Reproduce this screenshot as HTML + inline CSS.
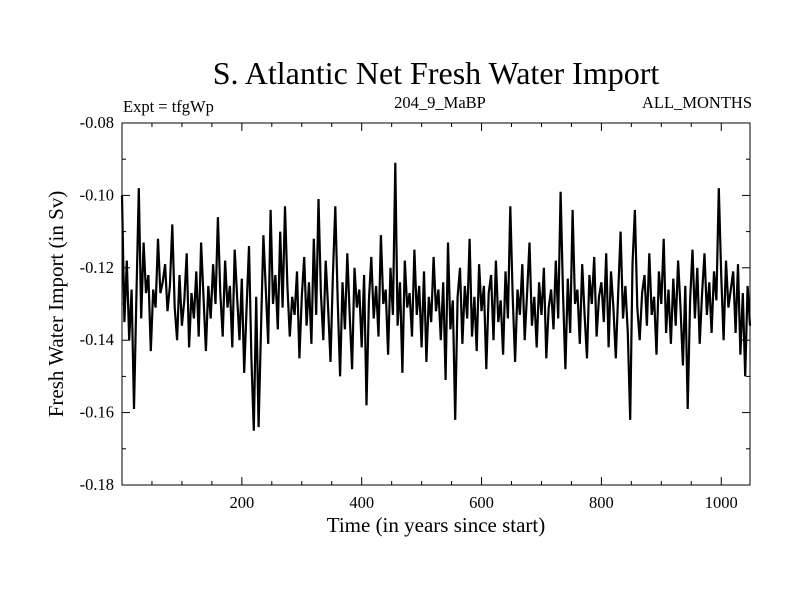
<!DOCTYPE html>
<html><head><meta charset="utf-8"><style>
body{margin:0;background:#fff}
svg text{font-family:"Liberation Serif",serif;fill:#000}
</style></head><body>
<svg id="chart" width="800" height="600">
<rect width="800" height="600" fill="#fff"/>
<text x="436" y="84" font-size="32" text-anchor="middle">S. Atlantic Net Fresh Water Import</text>
<text x="123" y="112" font-size="16.5">Expt = tfgWp</text>
<text x="440" y="108" font-size="16.5" text-anchor="middle">204_9_MaBP</text>
<text x="752" y="108" font-size="16.5" text-anchor="end">ALL_MONTHS</text>
<text transform="translate(63,304) rotate(-90)" font-size="21" text-anchor="middle">Fresh Water Import (in Sv)</text>
<text x="436" y="532" font-size="21" text-anchor="middle">Time (in years since start)</text>
<g id="axes"></g>
<rect x="122" y="123" width="628" height="362" fill="none" stroke="#000" stroke-width="1"/>
<path id="series" fill="none" stroke="#000" stroke-width="2.2" stroke-linejoin="miter"/>
</svg>
<script>
const years_step = 4;
const values = [
100,135,118,140,126,159,128,98,134,113,
127,122,143,126,131,112,127,124,119,132,
125,108,131,140,122,136,129,116,142,127,
134,121,139,113,128,143,125,134,119,130,
106,127,139,118,131,125,142,115,128,140,
123,149,131,114,145,165,128,164,137,111,
126,141,104,130,122,137,110,131,103,125,
139,128,133,121,145,128,117,136,124,141,
112,133,101,127,140,118,131,146,122,103,
129,150,124,137,116,133,148,120,131,126,
142,122,158,129,117,134,125,139,111,130,
126,144,120,133,91,136,124,149,118,131,
127,139,115,133,125,142,121,146,128,135,
117,132,126,140,124,151,113,137,129,162,
128,120,141,125,134,112,139,128,143,119,
132,125,148,127,122,140,118,135,129,144,
121,134,103,128,146,126,133,119,140,127,
113,136,128,142,124,133,120,145,131,126,
137,118,134,99,127,148,123,138,104,130,
126,141,119,133,145,122,130,117,139,128,
124,135,116,142,121,131,145,127,110,134,
125,138,162,119,104,131,140,127,122,136,
116,133,128,144,121,130,112,138,126,141,
123,136,118,131,147,125,159,129,115,134,
120,141,127,116,133,124,138,121,129,98,
122,140,118,131,126,121,138,119,144,127,
150,125,136
];
const xTicks = [200,400,600,800,1000];
const yTicks = [-0.08,-0.10,-0.12,-0.14,-0.16,-0.18];
const yTickLabels = ["-0.08","-0.10","-0.12","-0.14","-0.16","-0.18"];
const X0=122,X1=750,Y0=123,Y1=485,xmin=0,xmax=1048,ymin=-0.18,ymax=-0.08;
const xs=v=>X0+(v-xmin)/(xmax-xmin)*(X1-X0);
const ys=v=>Y1-(v-ymin)/(ymax-ymin)*(Y1-Y0);
const NS='http://www.w3.org/2000/svg';
const g=document.getElementById('axes');
function line(x1,y1,x2,y2,name){const l=document.createElementNS(NS,'line');
l.setAttribute('x1',x1);l.setAttribute('y1',y1);l.setAttribute('x2',x2);l.setAttribute('y2',y2);
l.setAttribute('stroke','#000');l.setAttribute('stroke-width','1');


g.appendChild(l);}
for(let v=50;v<xmax;v+=50){const x=xs(v);const L=(v%200===0)?8:4;
line(x,Y1,x,Y1-L,'x-tick');line(x,Y0,x,Y0+L,'x-tick-top');}
for(let i=0;i<=10;i++){const v=ymin+i*0.01;const y=ys(v);const L=(i%2===0)?8:4;
line(X0,y,X0+L,y,'y-tick');line(X1,y,X1-L,y,'y-tick-right');}
xTicks.forEach(v=>{const t=document.createElementNS(NS,'text');
t.setAttribute('x',xs(v));t.setAttribute('y',Y1+23);t.setAttribute('font-size','16.5');t.setAttribute('text-anchor','middle');


t.textContent=v;g.appendChild(t);});
yTicks.forEach((v,i)=>{const t=document.createElementNS(NS,'text');
t.setAttribute('x',X0-8);t.setAttribute('y',ys(v)+5);t.setAttribute('font-size','16.5');t.setAttribute('text-anchor','end');


t.textContent=yTickLabels[i];g.appendChild(t);});
let d='';values.forEach((v,i)=>{d+=(i?'L':'M')+xs(i*years_step).toFixed(1)+','+ys(-v/1000).toFixed(1);});
document.getElementById('series').setAttribute('d',d);
</script>
</body></html>
